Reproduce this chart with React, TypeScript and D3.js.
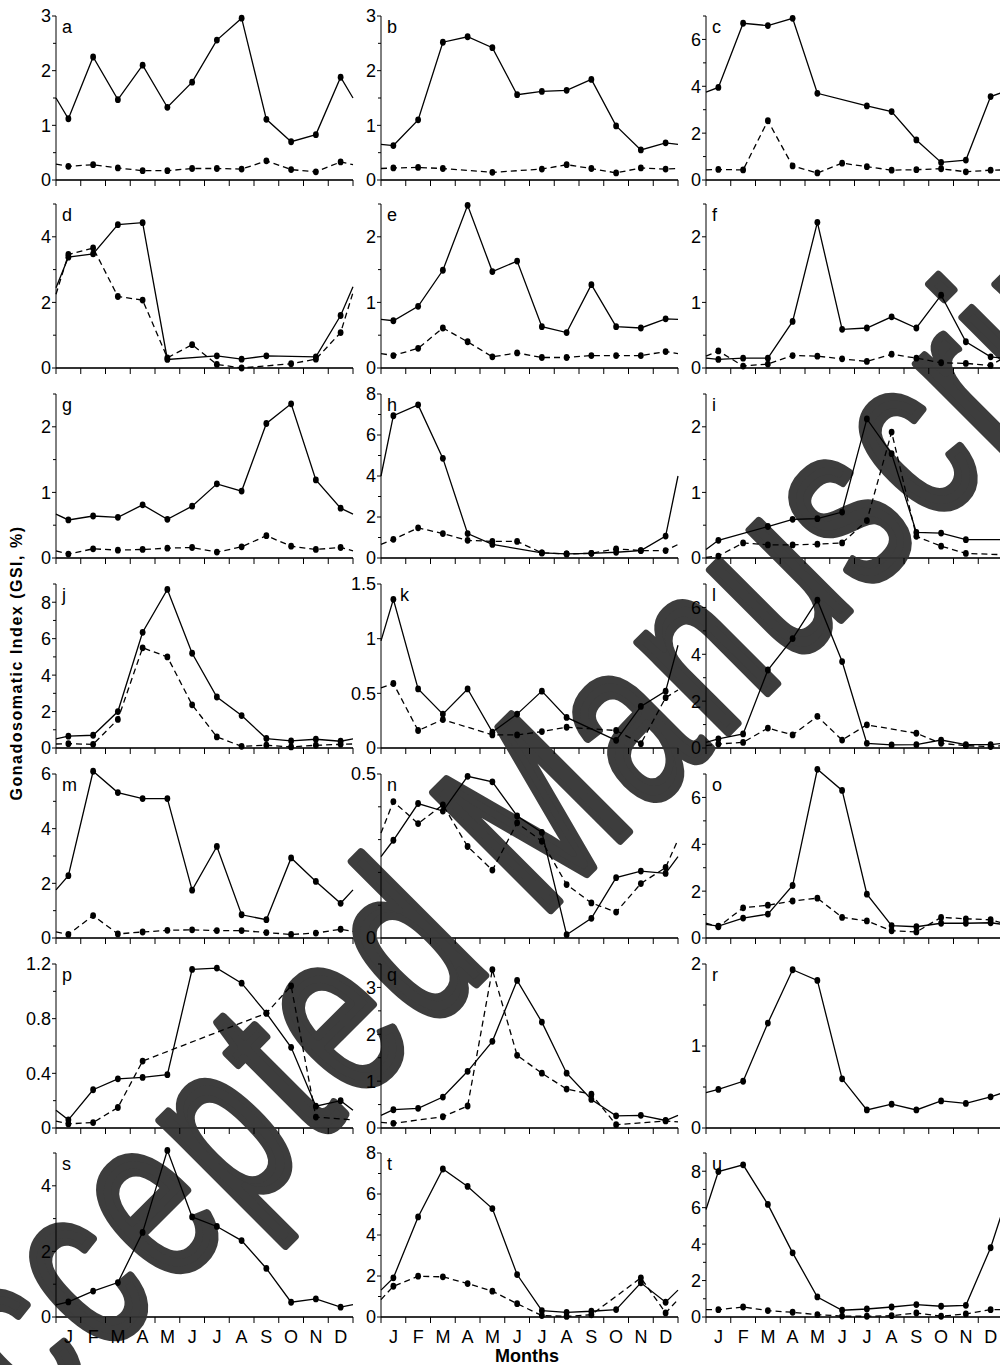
import React from 'react';
import * as d3 from 'd3';

// month labels on the x axis (one per interval)
const months = ['J', 'F', 'M', 'A', 'M', 'J', 'J', 'A', 'S', 'O', 'N', 'D'];
const panelLetters = ['a', 'b', 'c', 'd', 'e', 'f', 'g', 'h', 'i', 'j', 'k', 'l', 'm', 'n', 'o', 'p', 'q', 'r', 's', 't', 'u'];

// y axis extent and tick steps for each panel
const yMaxes = [3, 3, 7, 5, 2.5, 2.5, 2.5, 8, 2.5, 9, 1.5, 7, 6, 0.5, 7, 1.2, 3.5, 2, 5, 8, 9];
const majorSteps = [1, 1, 2, 2, 1, 1, 1, 2, 1, 2, 0.5, 2, 2, 0.5, 2, 0.4, 1, 1, 2, 2, 2];
const minorSteps = [0.5, 0.5, 1, 1, 0.5, 0.5, 0.5, 1, 0.5, 1, 0.5, 1, 1, 0.1, 1, 0.2, 0.5, 0.5, 1, 1, 1];

// GSI monthly means, J..D (null = no sample). *Ends = value where line meets left / right frame
const aSolid = [1.12, 2.25, 1.47, 2.1, 1.33, 1.79, 2.56, 2.96, 1.11, 0.7, 0.83, 1.88];
const aSolidEnds = [1.5, 1.5];
const aDashed = [0.25, 0.28, 0.22, 0.17, 0.17, 0.21, 0.21, 0.2, 0.35, 0.19, 0.15, 0.33];
const aDashedEnds = [0.29, 0.28];

const bSolid = [0.63, 1.1, 2.52, 2.62, 2.42, 1.56, 1.62, 1.64, 1.84, 0.99, 0.55, 0.68];
const bSolidEnds = [0.65, 0.65];
const bDashed = [0.22, 0.23, 0.21, null, 0.14, null, 0.2, 0.28, 0.21, 0.13, 0.22, 0.2];
const bDashedEnds = [0.21, 0.21];

const cSolid = [3.95, 6.69, 6.59, 6.9, 3.7, null, 3.16, 2.92, 1.71, 0.75, 0.85, 3.56];
const cSolidEnds = [3.75, 3.75];
const cDashed = [0.45, 0.43, 2.53, 0.6, 0.3, 0.72, 0.57, 0.42, 0.44, 0.48, 0.35, 0.42];
const cDashedEnds = [0.43, 0.43];

const dSolid = [3.38, 3.48, 4.37, 4.43, 0.26, null, 0.37, 0.27, 0.37, null, 0.34, 1.6];
const dSolidEnds = [2.45, 2.48];
const dDashed = [3.46, 3.66, 2.18, 2.07, 0.31, 0.71, 0.11, 0.0, null, 0.13, 0.27, 1.08];
const dDashedEnds = [2.25, 2.3];

const eSolid = [0.72, 0.94, 1.49, 2.48, 1.47, 1.63, 0.63, 0.54, 1.27, 0.63, 0.61, 0.75];
const eSolidEnds = [0.74, 0.74];
const eDashed = [0.19, 0.3, 0.61, 0.4, 0.17, 0.23, 0.16, 0.16, 0.19, 0.19, 0.19, 0.25];
const eDashedEnds = [0.22, 0.22];

const fSolid = [0.13, 0.15, 0.15, 0.71, 2.22, 0.59, 0.61, 0.78, 0.61, 1.11, 0.4, 0.17];
const fSolidEnds = [0.15, 0.15];
const fDashed = [0.26, 0.03, 0.06, 0.19, 0.18, 0.14, 0.1, 0.21, 0.15, 0.08, 0.07, 0.04];
const fDashedEnds = [0.18, 0.15];

const gSolid = [0.58, 0.64, 0.62, 0.81, 0.59, 0.79, 1.13, 1.02, 2.05, 2.35, 1.19, 0.76];
const gSolidEnds = [0.67, 0.67];
const gDashed = [0.06, 0.14, 0.12, 0.13, 0.15, 0.16, 0.09, 0.17, 0.34, 0.18, 0.13, 0.16];
const gDashedEnds = [0.11, 0.11];

const hSolid = [6.94, 7.47, 4.86, 1.19, 0.66, null, 0.25, 0.2, 0.23, 0.28, 0.36, 1.07];
const hSolidEnds = [4.0, 4.0];
const hDashed = [0.91, 1.47, 1.19, 0.86, 0.81, 0.81, 0.25, 0.2, 0.23, 0.45, 0.36, 0.36];
const hDashedEnds = [0.66, 0.66];

const iSolid = [0.27, null, 0.48, 0.59, 0.6, 0.7, 2.12, 1.59, 0.39, 0.38, 0.28, null];
const iSolidEnds = [0.13, 0.28];
const iDashed = [0.03, 0.23, 0.2, 0.2, 0.21, 0.23, 0.57, 1.92, 0.33, 0.18, 0.07, null];
const iDashedEnds = [0.01, 0.05];

const jSolid = [0.65, 0.7, 2.0, 6.35, 8.7, 5.2, 2.8, 1.78, 0.52, 0.39, 0.48, 0.37];
const jSolidEnds = [0.5, 0.5];
const jDashed = [0.24, 0.2, 1.57, 5.5, 5.0, 2.37, 0.61, 0.09, 0.15, 0.06, 0.15, 0.2];
const jDashedEnds = [0.22, 0.22];

const kSolid = [1.36, 0.54, 0.31, 0.54, 0.145, 0.31, 0.52, 0.28, null, 0.07, 0.38, 0.52];
const kSolidEnds = [0.98, 0.94];
const kDashed = [0.59, 0.16, 0.26, null, 0.12, 0.12, 0.15, 0.19, null, 0.16, 0.04, 0.46];
const kDashedEnds = [0.55, 0.53];

const lSolid = [0.39, 0.6, 3.33, 4.67, 6.31, 3.69, 0.2, 0.13, 0.14, 0.34, 0.14, 0.14];
const lSolidEnds = [0.24, 0.2];
const lDashed = [0.17, 0.24, 0.85, 0.56, 1.35, 0.34, 0.99, null, 0.63, 0.2, 0.1, 0.06];
const lDashedEnds = [0.1, 0.1];

const mSolid = [2.28, 6.1, 5.32, 5.1, 5.1, 1.75, 3.35, 0.85, 0.67, 2.93, 2.07, 1.27];
const mSolidEnds = [1.76, 1.76];
const mDashed = [0.13, 0.82, 0.15, 0.22, 0.28, 0.3, 0.27, 0.27, 0.2, 0.13, 0.18, 0.32];
const mDashedEnds = [0.22, 0.24];

const nSolid = [0.298, 0.41, 0.387, 0.493, 0.476, 0.372, 0.322, 0.01, 0.06, 0.184, 0.204, 0.197];
const nSolidEnds = [0.248, 0.248];
const nDashed = [0.416, 0.349, 0.406, 0.279, 0.207, 0.351, 0.295, 0.163, 0.107, 0.079, 0.166, 0.215];
const nDashedEnds = [0.32, 0.3];

const oSolid = [0.51, 0.85, 1.02, 2.24, 7.2, 6.3, 1.87, 0.53, 0.48, 0.63, 0.63, 0.65];
const oSolidEnds = [0.58, 0.58];
const oDashed = [0.48, 1.29, 1.4, 1.58, 1.7, 0.88, 0.73, 0.31, 0.26, 0.88, 0.82, 0.78];
const oDashedEnds = [0.63, 0.63];

const pSolid = [0.06, 0.28, 0.36, 0.37, 0.39, 1.16, 1.17, 1.06, 0.84, 0.59, 0.16, 0.2];
const pSolidEnds = [0.13, 0.13];
const pDashed = [0.03, 0.04, 0.15, 0.49, null, null, null, null, 0.84, 1.04, 0.08, null];
const pDashedEnds = [0.05, 0.06];

const qSolid = [0.39, 0.42, 0.66, 1.21, 1.85, 3.15, 2.26, 1.17, 0.61, 0.26, 0.27, 0.16];
const qSolidEnds = [0.27, 0.27];
const qDashed = [0.1, null, 0.24, 0.47, 3.38, 1.55, 1.17, 0.83, 0.72, 0.07, null, 0.15];
const qDashedEnds = [0.12, 0.13];

const rSolid = [0.47, 0.57, 1.28, 1.93, 1.8, 0.6, 0.22, 0.29, 0.22, 0.33, 0.3, 0.38];
const rSolidEnds = [0.43, 0.43];

const sSolid = [0.46, 0.79, 1.05, 2.58, 5.08, 3.05, 2.76, 2.33, 1.48, 0.45, 0.55, 0.3];
const sSolidEnds = [0.37, 0.38];

const tSolid = [1.91, 4.88, 7.22, 6.37, 5.29, 2.07, 0.31, 0.23, 0.28, 0.36, 1.67, 0.72];
const tSolidEnds = [1.31, 1.31];
const tDashed = [1.5, 1.99, 1.96, 1.63, 1.26, 0.65, 0.07, 0.03, 0.11, null, 1.91, 0.2];
const tDashedEnds = [0.85, 0.85];

const uSolid = [7.98, 8.35, 6.18, 3.52, 1.1, 0.37, 0.44, 0.55, 0.68, 0.59, 0.64, 3.8];
const uSolidEnds = [5.9, 5.9];
const uDashed = [0.4, 0.55, 0.35, 0.26, 0.13, 0.05, 0.04, 0.07, 0.22, 0.04, 0.17, 0.4];
const uDashedEnds = [0.4, 0.4];

const solids = [aSolid, bSolid, cSolid, dSolid, eSolid, fSolid, gSolid, hSolid, iSolid, jSolid, kSolid,
  lSolid, mSolid, nSolid, oSolid, pSolid, qSolid, rSolid, sSolid, tSolid, uSolid];
const solidEnds = [aSolidEnds, bSolidEnds, cSolidEnds, dSolidEnds, eSolidEnds, fSolidEnds, gSolidEnds,
  hSolidEnds, iSolidEnds, jSolidEnds, kSolidEnds, lSolidEnds, mSolidEnds, nSolidEnds, oSolidEnds,
  pSolidEnds, qSolidEnds, rSolidEnds, sSolidEnds, tSolidEnds, uSolidEnds];
const dashes = [aDashed, bDashed, cDashed, dDashed, eDashed, fDashed, gDashed, hDashed, iDashed, jDashed,
  kDashed, lDashed, mDashed, nDashed, oDashed, pDashed, qDashed, null, null, tDashed, uDashed];
const dashedEnds = [aDashedEnds, bDashedEnds, cDashedEnds, dDashedEnds, eDashedEnds, fDashedEnds,
  gDashedEnds, hDashedEnds, iDashedEnds, jDashedEnds, kDashedEnds, lDashedEnds, mDashedEnds, nDashedEnds,
  oDashedEnds, pDashedEnds, qDashedEnds, null, null, tDashedEnds, uDashedEnds];

const WIDTH = 1000;
const HEIGHT = 1365;
const COL_X = [56, 381, 706];
const ROW_BOTTOM = [180, 368, 558, 748, 938, 1128, 1317];
const PLOT_W = 297;
const PLOT_H = 164;
const FONT = '"Liberation Sans", Arial, sans-serif';

// watermark: "M" of Manuscript sits at the translate point
const WM_SIZE = 240;
const WM_SPACING = 14;
const WM_PREFIX = 4.447 * WM_SIZE + 9 * WM_SPACING; // advance of "Accepted "

const fmt = (v: number) => String(+v.toFixed(2));

const stepTicks = (max: number, step: number) =>
  d3.range(0, Math.round(max / step) + 1).map((k) => +(k * step).toFixed(3)).filter((v) => v <= max + 1e-9);

type Vals = (number | null)[];

const seriesPoints = (vals: Vals, ends: number[]) => {
  const pts: [number, number][] = [[0, ends[0]]];
  vals.forEach((v, i) => {
    if (v != null) pts.push([i + 0.5, v]);
  });
  pts.push([12, ends[1]]);
  return pts;
};

const Panel = ({ idx }: { idx: number }) => {
  const col = idx % 3;
  const row = Math.floor(idx / 3);
  const x0 = COL_X[col];
  const yB = ROW_BOTTOM[row];
  const x = d3.scaleLinear().domain([0, 12]).range([x0, x0 + PLOT_W]);
  const y = d3.scaleLinear().domain([0, yMaxes[idx]]).range([yB, yB - PLOT_H]);
  const line = d3.line<[number, number]>().x((d) => x(d[0])).y((d) => y(d[1]));

  const majors = stepTicks(yMaxes[idx], majorSteps[idx]);
  const minors = stepTicks(yMaxes[idx], minorSteps[idx]).filter(
    (v) => !majors.some((m) => Math.abs(m - v) < 1e-6)
  );

  const series: { vals: Vals; ends: number[]; dashed: boolean }[] = [];
  if (dashes[idx]) series.push({ vals: dashes[idx] as Vals, ends: dashedEnds[idx] as number[], dashed: true });
  series.push({ vals: solids[idx], ends: solidEnds[idx], dashed: false });

  const letterDx = panelLetters[idx] === 'k' ? 19 : 6;

  return (
    <g>
      {/* x axis */}
      <line x1={x(0)} x2={x(12)} y1={yB} y2={yB} stroke="#333" strokeWidth={1.8} />
      {d3.range(0, 13).map((m) => (
        <line key={'xt' + m} x1={x(m)} x2={x(m)} y1={yB} y2={yB + 6} stroke="#000" strokeWidth={1} />
      ))}
      {/* y axis */}
      <line x1={x0} x2={x0} y1={yB} y2={yB - PLOT_H} stroke="#000" strokeWidth={1} />
      {majors.map((v) => (
        <g key={'ym' + v}>
          <line x1={x0 - 4} x2={x0} y1={y(v)} y2={y(v)} stroke="#000" strokeWidth={1} />
          <text x={x0 - 5} y={y(v)} dy="0.36em" textAnchor="end" fontSize={18} fontFamily={FONT}>
            {fmt(v)}
          </text>
        </g>
      ))}
      {minors.map((v) => (
        <line key={'yn' + v} x1={x0 - 3} x2={x0} y1={y(v)} y2={y(v)} stroke="#000" strokeWidth={1} />
      ))}
      <text x={x0 + letterDx} y={yB - PLOT_H + 17} fontSize={18} fontFamily={FONT}>
        {panelLetters[idx]}
      </text>
      {series.map((s, k) => (
        <g key={'s' + k}>
          <path
            d={line(seriesPoints(s.vals, s.ends)) || ''}
            fill="none"
            stroke="#000"
            strokeWidth={1.3}
            strokeDasharray={s.dashed ? '6,4' : undefined}
          />
          {s.vals.map((v, i) =>
            v == null ? null : <ellipse key={i} cx={x(i + 0.5)} cy={y(v)} rx={2.9} ry={3.4} fill="#000" />
          )}
        </g>
      ))}
      {row === 6 &&
        months.map((m, i) => (
          <text key={'mo' + i} x={x(i + 0.5)} y={yB + 26} textAnchor="middle" fontSize={18} fontFamily={FONT}>
            {m}
          </text>
        ))}
    </g>
  );
};

export default function App() {
  return (
    <svg
      width={WIDTH}
      height={HEIGHT}
      style={{ position: 'absolute', left: 0, top: 0, background: '#fff' }}
    >
      <rect width={WIDTH} height={HEIGHT} fill="#fff" />
      {/* watermark, under the data */}
      <text
        transform="translate(540,920) rotate(-45) scale(0.7,1)"
        x={-WM_PREFIX}
        fontSize={WM_SIZE}
        letterSpacing={WM_SPACING}
        fontFamily={FONT}
        fill="#3d3d3d"
        stroke="#3d3d3d"
        strokeWidth={9}
        strokeLinejoin="round"
        strokeLinecap="round"
      >
        Accepted Manuscript
      </text>
      {panelLetters.map((_, i) => (
        <Panel key={i} idx={i} />
      ))}
      <text
        transform="translate(22,663) rotate(-90)"
        textAnchor="middle"
        fontSize={16}
        fontWeight="bold"
        letterSpacing={1.5}
        fontFamily={FONT}
      >
        Gonadosomatic Index (GSI, %)
      </text>
      <text x={527} y={1362} textAnchor="middle" fontSize={18} fontWeight="bold" fontFamily={FONT}>
        Months
      </text>
    </svg>
  );
}
